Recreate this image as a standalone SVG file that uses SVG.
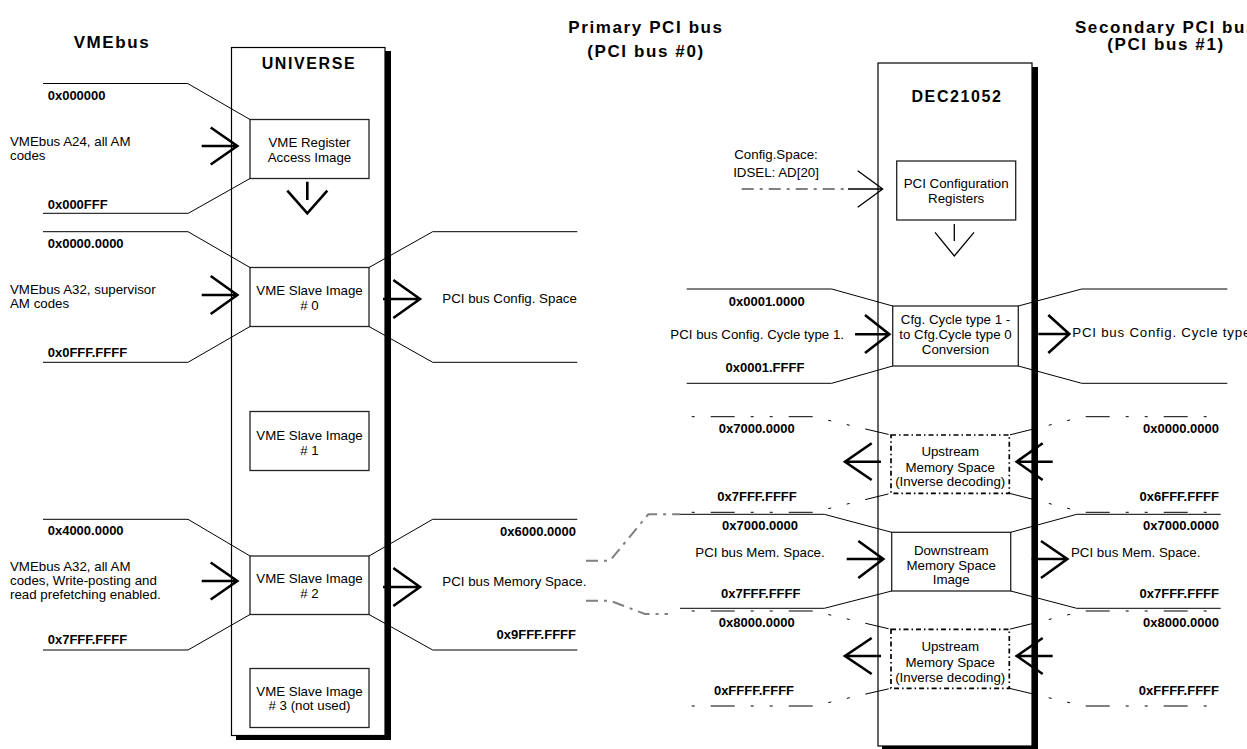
<svg xmlns="http://www.w3.org/2000/svg" width="1247" height="749" viewBox="0 0 1247 749">
<style>
text{font-family:"Liberation Sans",Arial,sans-serif;fill:#000}
.t{font-size:13.3px}
.h{font-size:13px;font-weight:bold}
.ttl{font-size:17px;font-weight:bold;letter-spacing:1.6px}
.chip{font-size:16px;font-weight:bold;letter-spacing:1.6px}
.mid{text-anchor:middle}
.end{text-anchor:end}
.shadow{fill:#000}
.main{fill:#fff;stroke:#000;stroke-width:1.2}
.box{fill:#fff;stroke:#222;stroke-width:1.3}
.ubox{fill:#fff;stroke:#000;stroke-width:1.7;stroke-dasharray:5,3,1.5,3}
.ln{fill:none;stroke:#000;stroke-width:1}
.dl{fill:none;stroke:#000;stroke-width:1;stroke-dasharray:3,16,24,16,3,16}
.gl{fill:none;stroke:#808080;stroke-width:2;stroke-dasharray:12,6,3,6}
.arr{fill:none;stroke:#000;stroke-width:2.6}
.thin{fill:none;stroke:#000;stroke-width:1.3}
</style>

<g id="titles">
<text class="ttl mid" x="112" y="48">VMEbus</text>
<text class="ttl mid" x="646" y="33">Primary PCI bus</text>
<text class="ttl mid" x="646" y="57">(PCI bus #0)</text>
<text class="ttl mid" x="1166" y="33">Secondary PCI bus</text>
<text class="ttl mid" x="1166" y="50">(PCI bus #1)</text>
</g>

<g id="universe">
<rect class="shadow" x="236" y="51" width="155" height="689"/>
<rect class="main" x="231.5" y="47.5" width="153.5" height="688"/>
<text class="chip mid" x="309" y="69">UNIVERSE</text>
</g>

<g id="dec21052">
<rect class="shadow" x="882" y="67" width="156" height="684"/>
<rect class="main" x="878" y="63" width="154" height="683"/>
<text class="chip mid" x="957" y="101.7">DEC21052</text>
</g>

<g id="vme-register">
<rect class="box" x="250" y="119.5" width="119" height="59"/>
<text class="t mid" x="309.5" y="146.7">VME Register</text>
<text class="t mid" x="309.5" y="161.7">Access Image</text>
</g>
<g id="vme-slave0">
<rect class="box" x="250" y="267.5" width="119" height="59"/>
<text class="t mid" x="309.5" y="295">VME Slave Image</text>
<text class="t mid" x="309.5" y="310"># 0</text>
</g>
<g id="vme-slave1">
<rect class="box" x="250" y="411.5" width="119" height="59"/>
<text class="t mid" x="309.5" y="440">VME Slave Image</text>
<text class="t mid" x="309.5" y="455"># 1</text>
</g>
<g id="vme-slave2">
<rect class="box" x="250" y="556" width="119" height="58.5"/>
<text class="t mid" x="309.5" y="583.3">VME Slave Image</text>
<text class="t mid" x="309.5" y="598.3"># 2</text>
</g>
<g id="vme-slave3">
<rect class="box" x="250" y="668.5" width="119" height="59"/>
<text class="t mid" x="309.5" y="696">VME Slave Image</text>
<text class="t mid" x="309.5" y="710"># 3 (not used)</text>
</g>

<g id="pci-config-regs">
<rect class="box" x="896.7" y="161" width="119" height="59"/>
<text class="t mid" x="956.2" y="188.3">PCI Configuration</text>
<text class="t mid" x="956.2" y="203.3">Registers</text>
</g>
<g id="cfg-conv">
<rect class="box" x="892.7" y="306" width="125.6" height="60"/>
<text class="t mid" x="955.5" y="324">Cfg. Cycle type 1 -</text>
<text class="t mid" x="955.5" y="339">to Cfg.Cycle type 0</text>
<text class="t mid" x="955.5" y="354">Conversion</text>
</g>
<g id="upstream1">
<rect class="ubox" x="891" y="435" width="118.3" height="58.3"/>
<text class="t mid" x="950.2" y="456">Upstream</text>
<text class="t mid" x="950.2" y="471.7">Memory Space</text>
<text class="t mid" x="950.2" y="486">(Inverse decoding)</text>
</g>
<g id="downstream">
<rect class="box" x="891.7" y="532.3" width="119" height="58.7"/>
<text class="t mid" x="951.2" y="555">Downstream</text>
<text class="t mid" x="951.2" y="570">Memory Space</text>
<text class="t mid" x="951.2" y="584.3">Image</text>
</g>
<g id="upstream2">
<rect class="ubox" x="891" y="629.3" width="118.3" height="59"/>
<text class="t mid" x="950.2" y="651">Upstream</text>
<text class="t mid" x="950.2" y="666.7">Memory Space</text>
<text class="t mid" x="950.2" y="681.7">(Inverse decoding)</text>
</g>

<g id="connectors">
<path class="ln" d="M43,83.5 H187.7 L250,119.5"/>
<path class="ln" d="M43,213.3 H188.3 L250,178.5"/>
<path class="ln" d="M43,231.7 H188 L250,267.5"/>
<path class="ln" d="M43,362.3 H188 L250,326.5"/>
<path class="ln" d="M43,519.3 H188 L250,556"/>
<path class="ln" d="M43,650 H188 L250,614.5"/>
<path class="ln" d="M369,267.5 L432.7,231.7 H577.3"/>
<path class="ln" d="M369,326.5 L432.7,362.3 H577.3"/>
<path class="ln" d="M369,556 L432.7,519.3 H577.3"/>
<path class="ln" d="M369,614.5 L432.7,650 H577.3"/>
<path class="gl" d="M586,560.7 H610 L648.3,514.3 H680"/>
<path class="gl" d="M586,600.7 H610 L645,614 H668"/>
<path class="gl" d="M741.7,189 H846"/>
<path class="ln" d="M686.7,289 H831.7 L892.7,306"/>
<path class="ln" d="M686.7,383.3 H831.7 L892.7,366"/>
<path class="ln" d="M680,514.3 H824.3 L891.7,532.3"/>
<path class="ln" d="M680,608.3 H824.3 L891.7,591"/>
<path class="ln" d="M1018.3,306 L1081.7,289 H1227.3"/>
<path class="ln" d="M1018.3,366 L1081.7,383.3 H1227.3"/>
<path class="ln" d="M1010.7,532.3 L1076.7,514.3 H1220.7"/>
<path class="ln" d="M1010.7,591 L1076.7,608.3 H1220.7"/>
<path class="dl" d="M691.7,416.7 H813.3 L891,435"/>
<path class="dl" d="M1206.7,416.7 H1083.3 L1009.3,435"/>
<path class="dl" d="M691.7,512.3 H813.3 L891,493.3"/>
<path class="dl" d="M1206.7,512.3 H1083.3 L1009.3,493.3"/>
<path class="dl" d="M691.7,611 H813.3 L891,629.3"/>
<path class="dl" d="M1206.7,611 H1083.3 L1009.3,629.3"/>
<path class="dl" d="M691.7,706 H813.3 L891,688.3"/>
<path class="dl" d="M1206.7,706 H1083.3 L1009.3,688.3"/>
<path class="arr" d="M201.7,146 H237.3 M210.7,127.5 L237.3,146 L210.7,164.5"/>
<path class="arr" d="M307.3,181.7 V200 M287.3,190.7 L307.3,213.3 L327.3,190.7"/>
<path class="arr" d="M201.7,295 H237.3 M210.7,276 L237.3,295 L210.7,314"/>
<path class="arr" d="M201.7,581 H237.3 M210.7,562.5 L237.3,581 L210.7,599.5"/>
<path class="arr" d="M383,299 H420 M393.3,280 L420,299 L393.3,318"/>
<path class="arr" d="M383,587 H420 M393.3,568 L420,587 L393.3,606"/>
<path class="arr" d="M855,334.3 H889.3 M865,315 L889.3,334.3 L865,353"/>
<path class="arr" d="M1038.3,334 H1069.3 M1048.3,315 L1069.3,334 L1048.3,353"/>
<path class="arr" d="M846.7,559 H883.3 M858.3,541 L883.3,559 L858.3,578"/>
<path class="arr" d="M1031.7,559 H1067.3 M1041,541 L1067.3,559 L1041,578"/>
<path class="arr" d="M881,461.7 H845 M871.7,443.3 L845,461.7 L871.7,480"/>
<path class="arr" d="M1052.7,461.7 H1016.7 M1042.7,443.3 L1016.7,461.7 L1042.7,480"/>
<path class="arr" d="M881,656 H845 M871.7,638 L845,656 L871.7,674"/>
<path class="arr" d="M1052.7,656 H1016.7 M1042.7,638 L1016.7,656 L1042.7,674"/>
<path class="thin" d="M848,189 H882.7 M857.7,170.7 L882.7,189 L857.7,207.3"/>
<path class="thin" d="M954.3,224 V241 M935,232.3 L954.3,256 L974,232.3"/>
</g>

<g id="labels">
<text class="h" x="47.7" y="100">0x000000</text>
<text class="h" x="47.7" y="209">0x000FFF</text>
<text class="h" x="47.7" y="248.3">0x0000.0000</text>
<text class="h" x="47.7" y="356.7">0x0FFF.FFFF</text>
<text class="h" x="47.7" y="535">0x4000.0000</text>
<text class="h" x="47.7" y="644">0x7FFF.FFFF</text>
<text class="t" x="10" y="145.7">VMEbus A24, all AM</text>
<text class="t" x="10" y="159.5">codes</text>
<text class="t" x="10" y="294">VMEbus A32, supervisor</text>
<text class="t" x="10" y="308">AM codes</text>
<text class="t" x="10" y="570.7">VMEbus A32, all AM</text>
<text class="t" x="10" y="585">codes, Write-posting and</text>
<text class="t" x="10" y="599">read prefetching enabled.</text>
<text class="t" x="442.3" y="303">PCI bus Config. Space</text>
<text class="t" x="442.3" y="586">PCI bus Memory Space.</text>
<text class="h end" x="576" y="536">0x6000.0000</text>
<text class="h end" x="576" y="639.3">0x9FFF.FFFF</text>
<text class="t mid" x="776" y="159.3">Config.Space:</text>
<text class="t mid" x="776" y="176.7">IDSEL: AD[20]</text>
<text class="h mid" x="766.7" y="305.7">0x0001.0000</text>
<text class="t end" x="844" y="339">PCI bus Config. Cycle type 1.</text>
<text class="h mid" x="765" y="372.3">0x0001.FFFF</text>
<text class="h mid" x="756.7" y="433.3">0x7000.0000</text>
<text class="h mid" x="757" y="500.7">0x7FFF.FFFF</text>
<text class="h mid" x="760" y="530">0x7000.0000</text>
<text class="t mid" x="760" y="557.3">PCI bus Mem. Space.</text>
<text class="h mid" x="760.7" y="598.3">0x7FFF.FFFF</text>
<text class="h mid" x="756.7" y="627.3">0x8000.0000</text>
<text class="h mid" x="754" y="695">0xFFFF.FFFF</text>
<text class="h end" x="1219" y="433.3">0x0000.0000</text>
<text class="h end" x="1219" y="500.7">0x6FFF.FFFF</text>
<text class="h end" x="1219" y="530">0x7000.0000</text>
<text class="h end" x="1219" y="598.3">0x7FFF.FFFF</text>
<text class="h end" x="1219" y="627.3">0x8000.0000</text>
<text class="h end" x="1219" y="695">0xFFFF.FFFF</text>
<text class="t" x="1071" y="556.7">PCI bus Mem. Space.</text>
<text class="t" x="1072.3" y="337.3" textLength="178" lengthAdjust="spacing">PCI bus Config. Cycle type</text>
</g>
</svg>
